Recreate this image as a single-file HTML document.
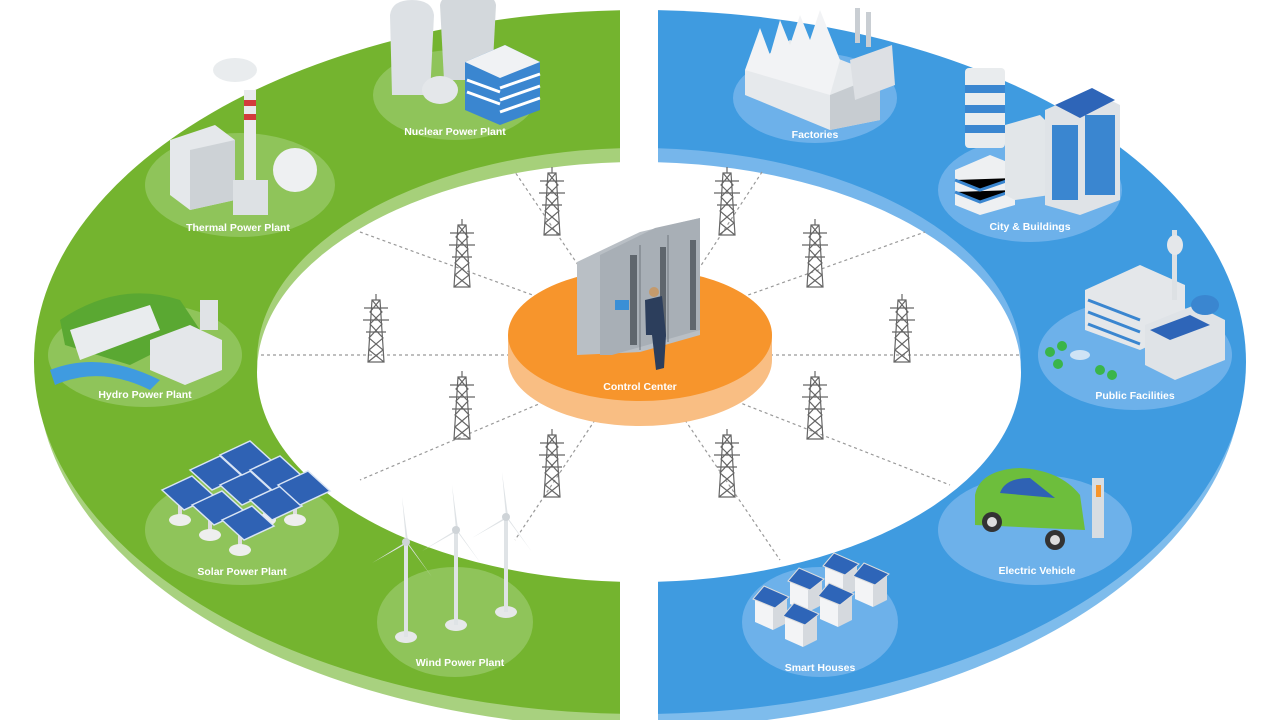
<!DOCTYPE html>
<html><head><meta charset="utf-8"><style>
html,body{margin:0;padding:0;background:#fff;width:1280px;height:720px;overflow:hidden}
svg text{font-family:"Liberation Sans",sans-serif;font-weight:bold;font-size:10.5px;fill:#fff;text-anchor:middle}
</style></head><body>
<svg width="1280" height="720" viewBox="0 0 1280 720">
<defs>
<clipPath id="L"><rect x="0" y="0" width="620" height="720"/></clipPath>
<clipPath id="R"><rect x="658" y="0" width="622" height="720"/></clipPath>
<g id="tw" fill="none" stroke="#666" stroke-width="1.2">
<path d="M-4,-30 L4,-30 L8,32 L-8,32 Z M-12,-22 L12,-22 M-13,-10 L13,-10 M-10,2 L10,2 M-4,-30 L6,-18 L-6,-6 L7,8 L-7,20 L8,32 M4,-30 L-6,-18 L6,-6 L-7,8 L7,20 L-8,32 M0,-36 L0,-30"/>
</g>
<g id="tb"><ellipse cx="0" cy="0" rx="11" ry="6" fill="#e6e8ea"/><rect x="-2" y="-95" width="4" height="95" fill="#dfe3e6"/><path d="M0,-95 L-4,-140 L2,-96 Z M0,-95 L-34,-74 L-2,-92Z M0,-95 L26,-60 L2,-94Z" fill="#dfe3e6"/><circle cx="0" cy="-95" r="4" fill="#cfd4d8"/></g>
<g id="sp"><rect x="-2" y="0" width="4" height="18" fill="#ddd"/><ellipse cx="0" cy="20" rx="11" ry="6" fill="#eee"/></g>
<g id="pn"><path d="M0,0 L30,-14 L52,6 L22,20Z" fill="#2f62b4" stroke="#d8e4f4" stroke-width="1.5"/></g>
<g id="hs"><path d="M0,0 L0,24 L18,32 L18,8 Z" fill="#f3f4f6"/><path d="M18,8 L18,32 L32,25 L32,1Z" fill="#d5d9de"/><path d="M-2,1 L9,-12 L34,-1 L20,10Z" fill="#2e65b8" stroke="#ddd"/></g>
</defs>
<!-- green ring -->
<g clip-path="url(#L)">
<ellipse cx="640" cy="372" rx="603" ry="356" fill="#a8d17f"/>
<ellipse cx="640" cy="362" rx="606" ry="352" fill="#74b42f"/>
<ellipse cx="639" cy="360" rx="382" ry="212" fill="#a6d07a"/>
<ellipse cx="639" cy="372" rx="382" ry="210" fill="#fff"/>
</g>
<g clip-path="url(#R)">
<ellipse cx="640" cy="372" rx="603" ry="356" fill="#7ebcec"/>
<ellipse cx="640" cy="362" rx="606" ry="352" fill="#3f9be0"/>
<ellipse cx="639" cy="360" rx="382" ry="212" fill="#76b6eb"/>
<ellipse cx="639" cy="372" rx="382" ry="210" fill="#fff"/>
</g>
<!-- node discs -->
<g fill="#8fc45a">
<ellipse cx="455" cy="95" rx="82" ry="45"/>
<ellipse cx="240" cy="185" rx="95" ry="52"/>
<ellipse cx="145" cy="355" rx="97" ry="52"/>
<ellipse cx="242" cy="530" rx="97" ry="55"/>
<ellipse cx="455" cy="622" rx="78" ry="55"/>
</g>
<g fill="#6db1ea">
<ellipse cx="815" cy="98" rx="82" ry="45"/>
<ellipse cx="1030" cy="190" rx="92" ry="52"/>
<ellipse cx="1135" cy="355" rx="97" ry="55"/>
<ellipse cx="1035" cy="530" rx="97" ry="55"/>
<ellipse cx="820" cy="622" rx="78" ry="55"/>
</g>
<!-- dashed connectors -->
<g stroke="#999" stroke-width="1.2" stroke-dasharray="3,3" fill="none">
<path d="M595,290 L515,172 M685,290 L762,172 M560,305 L360,232 M720,305 L925,232 M510,355 L260,355 M770,355 L1020,355 M560,395 L360,480 M720,395 L950,485 M595,420 L515,540 M685,420 L780,560"/>
</g>
<!-- towers -->
<use href="#tw" x="552" y="203"/><use href="#tw" x="727" y="203"/>
<use href="#tw" x="462" y="255"/><use href="#tw" x="815" y="255"/>
<use href="#tw" x="376" y="330"/><use href="#tw" x="902" y="330"/>
<use href="#tw" x="462" y="407"/><use href="#tw" x="815" y="407"/>
<use href="#tw" x="552" y="465"/><use href="#tw" x="727" y="465"/>
<!-- control center -->
<ellipse cx="640" cy="360" rx="132" ry="66" fill="#f9be83"/>
<rect x="508" y="335" width="264" height="25" fill="#f9be83"/>
<ellipse cx="640" cy="335" rx="132" ry="66" fill="#f7952c"/>
<path d="M577,262 L640,232 L700,218 L700,335 L640,352 L577,355Z" fill="#b9bfc5"/>
<path d="M600,255 L655,228 L700,218 L700,330 L612,355 L600,355Z" fill="#a8afb6"/>
<g stroke="#70777e" stroke-width="1"><path d="M640,245 L640,350 M668,235 L668,342"/></g>
<g fill="#5f666d"><rect x="630" y="255" width="7" height="90"/><rect x="660" y="247" width="6" height="90"/><rect x="690" y="240" width="6" height="90"/></g>
<rect x="615" y="300" width="14" height="10" fill="#3a8fd6"/>
<path d="M645,300 L662,296 L666,335 L664,368 L656,370 L652,335 L646,335 Z" fill="#2c3e5c"/>
<circle cx="654" cy="292" r="5" fill="#c49a6c"/>
<text x="640" y="390">Control Center</text>
<!-- nuclear -->
<path d="M390,15 Q392,0 412,0 Q432,0 434,15 L430,95 L392,95Z" fill="#dde1e5"/>
<path d="M440,5 Q442,-8 468,-8 Q494,-8 496,5 L492,80 L444,80Z" fill="#d3d8dc"/>
<ellipse cx="440" cy="90" rx="18" ry="14" fill="#e4e7ea"/>
<path d="M465,62 L505,45 L540,62 L540,110 L500,125 L465,110Z" fill="#3a86d0"/>
<path d="M465,62 L505,45 L540,62 L500,78Z" fill="#f0f2f4"/>
<g stroke="#fff" stroke-width="3"><path d="M500,88 L540,74 M500,100 L540,86 M500,112 L540,98 M467,80 L500,92 M467,92 L500,104"/></g>
<text x="455" y="135">Nuclear Power Plant</text>
<!-- thermal -->
<path d="M170,140 L215,125 L235,140 L235,200 L190,210 L170,195Z" fill="#e5e8eb"/>
<path d="M190,150 L235,140 L235,200 L190,210Z" fill="#cdd2d6"/>
<rect x="244" y="90" width="12" height="110" fill="#e8eaec"/>
<g fill="#d23b3b"><rect x="244" y="100" width="12" height="6"/><rect x="244" y="114" width="12" height="6"/></g>
<ellipse cx="235" cy="70" rx="22" ry="12" fill="#e9ecee"/>
<circle cx="295" cy="170" r="22" fill="#eef0f2"/>
<rect x="233" y="180" width="35" height="35" fill="#dde1e4"/>
<text x="238" y="231">Thermal Power Plant</text>
<!-- hydro -->
<path d="M60,320 Q120,280 180,300 L200,330 L130,365 L65,345Z" fill="#5aa832"/>
<path d="M70,330 L150,305 L160,330 L80,360Z" fill="#e9ecee"/>
<path d="M50,370 Q100,350 160,380 L150,390 Q100,365 55,385Z" fill="#3f9be0"/>
<path d="M150,340 L190,325 L222,340 L222,370 L185,385 L150,370Z" fill="#e4e7ea"/>
<rect x="200" y="300" width="18" height="30" fill="#e0e3e6"/>
<text x="145" y="398">Hydro Power Plant</text>
<!-- solar -->
<use href="#sp" x="180" y="500"/><use href="#sp" x="210" y="515"/><use href="#sp" x="240" y="530"/><use href="#sp" x="265" y="500"/><use href="#sp" x="295" y="500"/>
<use href="#pn" x="162" y="490"/><use href="#pn" x="192" y="505"/><use href="#pn" x="222" y="520"/>
<use href="#pn" x="190" y="470"/><use href="#pn" x="220" y="485"/><use href="#pn" x="250" y="500"/>
<use href="#pn" x="220" y="455"/><use href="#pn" x="250" y="470"/><use href="#pn" x="278" y="485"/>
<text x="242" y="575">Solar Power Plant</text>
<!-- wind -->
<use href="#tb" x="406" y="637"/><use href="#tb" x="456" y="625"/><use href="#tb" x="506" y="612"/>
<text x="460" y="666">Wind Power Plant</text>
<!-- factories -->
<path d="M745,70 L790,40 L880,75 L880,120 L830,130 L745,95Z" fill="#e6e9ec"/>
<path d="M830,95 L880,75 L880,120 L830,130Z" fill="#c7ccd1"/>
<path d="M745,70 L760,28 L770,55 L780,20 L790,45 L800,15 L810,40 L820,10 L840,60 L830,95 Z" fill="#f2f3f5"/>
<path d="M850,60 L892,45 L895,85 L855,100Z" fill="#dde0e4"/>
<rect x="855" y="8" width="5" height="35" fill="#c9ced3"/><rect x="866" y="12" width="5" height="35" fill="#c9ced3"/>
<text x="815" y="138">Factories</text>
<!-- city -->
<rect x="965" y="68" width="40" height="80" rx="4" fill="#e9ecee"/>
<g fill="#3a86d0"><rect x="965" y="85" width="40" height="8"/><rect x="965" y="105" width="40" height="8"/><rect x="965" y="125" width="40" height="8"/></g>
<path d="M955,170 L990,155 L1015,165 L1015,205 L980,215 L955,205Z" fill="#eef0f2"/>
<g stroke="#3a86d0" stroke-width="3"><path d="M955,180 L980,190 L1015,178 M955,192 L980,202 L1015,190"/></g>
<path d="M1005,125 L1040,115 L1050,125 L1050,195 L1015,200 L1005,195Z" fill="#e2e6e9"/>
<path d="M1045,110 L1090,90 L1120,105 L1120,200 L1080,215 L1045,205Z" fill="#dfe3e7"/>
<g fill="#3a86d0"><rect x="1085" y="115" width="30" height="80"/><rect x="1052" y="125" width="26" height="75"/></g>
<path d="M1055,105 L1092,88 L1115,100 L1080,118Z" fill="#2e65b8"/>
<text x="1030" y="230">City &amp; Buildings</text>
<!-- public -->
<path d="M1085,290 L1140,265 L1185,285 L1185,330 L1140,350 L1085,330Z" fill="#e4e7ea"/>
<g stroke="#3a86d0" stroke-width="3"><path d="M1088,300 L1140,320 M1088,312 L1140,332 M1088,324 L1140,344"/></g>
<rect x="1172" y="230" width="5" height="70" fill="#dde1e4"/><ellipse cx="1175" cy="245" rx="8" ry="10" fill="#e4e7ea"/>
<path d="M1145,325 L1195,305 L1225,320 L1225,360 L1175,380 L1145,365Z" fill="#dfe3e7"/>
<path d="M1150,330 L1190,315 L1210,325 L1170,340Z" fill="#2e65b8"/>
<ellipse cx="1205" cy="305" rx="14" ry="10" fill="#3a86d0"/>
<g fill="#3ab54a"><circle cx="1050" cy="352" r="5"/><circle cx="1062" cy="346" r="5"/><circle cx="1058" cy="364" r="5"/><circle cx="1100" cy="370" r="5"/><circle cx="1112" cy="375" r="5"/></g>
<ellipse cx="1080" cy="355" rx="10" ry="5" fill="#cfe3f5"/>
<text x="1135" y="399">Public Facilities</text>
<!-- EV -->
<path d="M975,495 Q980,470 1020,468 Q1060,470 1080,495 L1085,530 L975,525Z" fill="#6dbe3c"/>
<path d="M1000,493 Q1005,478 1030,478 L1055,498Z" fill="#2f62b4"/>
<circle cx="992" cy="522" r="10" fill="#333"/><circle cx="1055" cy="540" r="10" fill="#333"/>
<circle cx="992" cy="522" r="5" fill="#ddd"/><circle cx="1055" cy="540" r="5" fill="#ddd"/>
<rect x="1092" y="478" width="12" height="60" fill="#d8dde2"/><rect x="1096" y="485" width="5" height="12" fill="#f7952c"/>
<text x="1037" y="574">Electric Vehicle</text>
<!-- smart houses -->
<use href="#hs" x="825" y="565"/><use href="#hs" x="855" y="575"/>
<use href="#hs" x="790" y="580"/><use href="#hs" x="820" y="595"/>
<use href="#hs" x="755" y="598"/><use href="#hs" x="785" y="615"/>
<text x="820" y="671">Smart Houses</text>
</svg>
</body></html>
